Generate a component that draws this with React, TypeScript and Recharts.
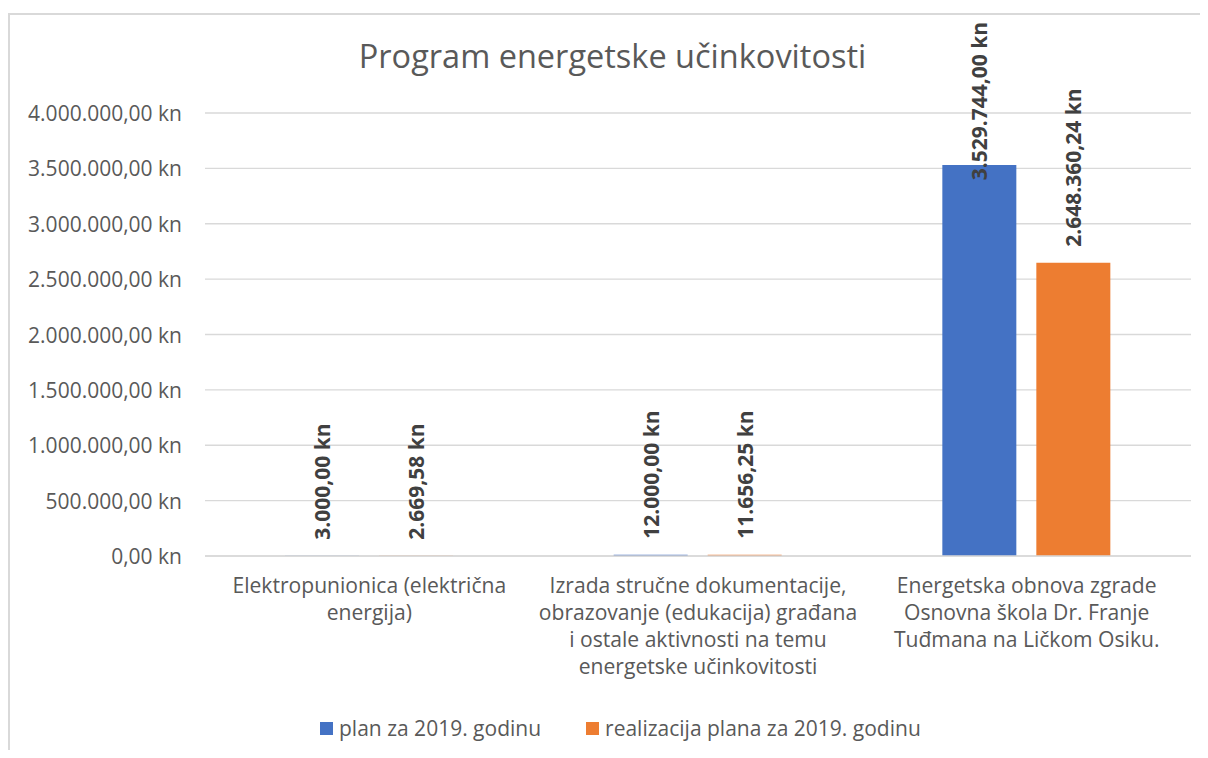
import React from 'react';
import { BarChart, Bar, XAxis, YAxis, CartesianGrid, LabelList } from 'recharts';

const categories = [
  'Elektropunionica (električna energija)',
  'Izrada stručne dokumentacije, obrazovanje (edukacija) građana i ostale aktivnosti na temu energetske učinkovitosti',
  'Energetska obnova zgrade Osnovna škola Dr. Franje Tuđmana na Ličkom Osiku.',
];
const planValues = [3000, 12000, 3529744];
const realValues = [2669.58, 11656.25, 2648360.24];
const seriesNames = ['plan za 2019. godinu', 'realizacija plana za 2019. godinu'];
const seriesColors = ['#4472C4', '#ED7D31'];
const yTicks = [0, 500000, 1000000, 1500000, 2000000, 2500000, 3000000, 3500000, 4000000];
const titleText = 'Program energetske učinkovitosti';

const data = categories.map((c, i) => ({ name: c, plan: planValues[i], real: realValues[i] }));

const FONT = '"Open Sans", sans-serif';
const TEXT = '#595959';
const GRID = '#d9d9d9';

function fmtKn(v: number): string {
  const [intPart, dec] = Math.abs(v).toFixed(2).split('.');
  const withDots = intPart.replace(/\B(?=(\d{3})+(?!\d))/g, '.');
  return `${v < 0 ? '-' : ''}${withDots},${dec} kn`;
}

function wrap(text: string, maxChars: number): string[] {
  const words = text.split(' ');
  const lines: string[] = [];
  let cur = '';
  for (const w of words) {
    const next = cur ? cur + ' ' + w : w;
    if (next.length > maxChars && cur) {
      lines.push(cur);
      cur = w;
    } else {
      cur = next;
    }
  }
  if (cur) lines.push(cur);
  return lines;
}

const YTick = (props: any) => {
  const { x, y, payload } = props;
  return (
    <text x={x} y={y} textAnchor="end" dominantBaseline="central" fill={TEXT} fontFamily={FONT} fontSize={21}>
      {fmtKn(payload.value)}
    </text>
  );
};

const XTick = (props: any) => {
  const { x, y, payload } = props;
  const lines = wrap(String(payload.value), 31);
  return (
    <text textAnchor="middle" fill={TEXT} fontFamily={FONT} fontSize={21.1} dominantBaseline="central">
      {lines.map((l, i) => (
        <tspan key={i} x={x} y={y + 28 + i * 27}>
          {l}
        </tspan>
      ))}
    </text>
  );
};

const renderDataLabel = (props: any) => {
  const vb = props.viewBox || {};
  const bx = props.x ?? vb.x;
  const by = props.y ?? vb.y;
  const bw = props.width ?? vb.width;
  const bh = props.height ?? vb.height;
  const top = bh >= 0 ? by : by + bh;
  const cx = bx + bw / 2;
  const label = fmtKn(Number(props.value));
  const estLen = label.length * 10.7;
  let ay = top - 16;
  let anchor: 'start' | 'end' = 'start';
  if (ay - estLen < 9) {
    ay = 9;
    anchor = 'end';
  }
  return (
    <text
      transform={`translate(${cx},${ay}) rotate(-90)`}
      textAnchor={anchor}
      dominantBaseline="central"
      fill="#404040"
      fontFamily={FONT}
      fontWeight="bold"
      fontSize={21}
    >
      {label}
    </text>
  );
};

export default function App() {
  return (
    <div style={{ paddingTop: 5, height: 737, width: 1200, overflow: 'hidden', fontFamily: FONT }}>
      <style>{`html, body { overflow: hidden; } .recharts-wrapper, .recharts-surface { outline: none !important; }`}</style>
      <div style={{ position: 'relative', width: 1200, height: 737 }}>
        <BarChart
          width={1200}
          height={737}
          data={data}
          margin={{ top: 100, right: 17, left: 0, bottom: 44 }}
          barCategoryGap={80}
          barGap={20}
          accessibilityLayer={false}
        >
          <CartesianGrid vertical={false} stroke={GRID} strokeWidth={1.4} />
          <YAxis
            width={197}
            domain={[0, 4000000]}
            ticks={yTicks}
            axisLine={false}
            tickLine={false}
            tickSize={0}
            tickMargin={23}
            tick={<YTick />}
            interval={0}
          />
          <XAxis
            dataKey="name"
            height={150}
            axisLine={{ stroke: GRID, strokeWidth: 1.4 }}
            tickLine={false}
            tickSize={0}
            tickMargin={0}
            tick={<XTick />}
            interval={0}
          />
          <Bar dataKey="plan" name={seriesNames[0]} fill={seriesColors[0]} isAnimationActive={false}>
            <LabelList dataKey="plan" content={renderDataLabel} />
          </Bar>
          <Bar dataKey="real" name={seriesNames[1]} fill={seriesColors[1]} isAnimationActive={false}>
            <LabelList dataKey="real" content={renderDataLabel} />
          </Bar>
        </BarChart>
        <div
          style={{
            position: 'absolute',
            left: 0,
            top: 0,
            width: 1200,
            height: 737,
            borderTop: `2px solid ${GRID}`,
            borderLeft: `2px solid ${GRID}`,
            boxSizing: 'border-box',
            pointerEvents: 'none',
          }}
        />
        <div
          style={{
            position: 'absolute',
            left: 0,
            width: 1209,
            top: 21,
            height: 44,
            lineHeight: '44px',
            textAlign: 'center',
            fontSize: 32.5,
            color: TEXT,
            whiteSpace: 'nowrap',
          }}
        >
          {titleText}
        </div>
        <div
          style={{
            position: 'absolute',
            left: 312,
            top: 701,
            height: 28,
            display: 'flex',
            alignItems: 'center',
            fontSize: 21,
            color: TEXT,
            whiteSpace: 'nowrap',
          }}
        >
          {seriesNames.map((n, i) => (
            <div key={n} style={{ display: 'flex', alignItems: 'center', marginRight: i === 0 ? 45 : 0 }}>
              <span style={{ display: 'inline-block', width: 13, height: 13, background: seriesColors[i], marginRight: 6 }} />
              <span>{n}</span>
            </div>
          ))}
        </div>
      </div>
    </div>
  );
}
